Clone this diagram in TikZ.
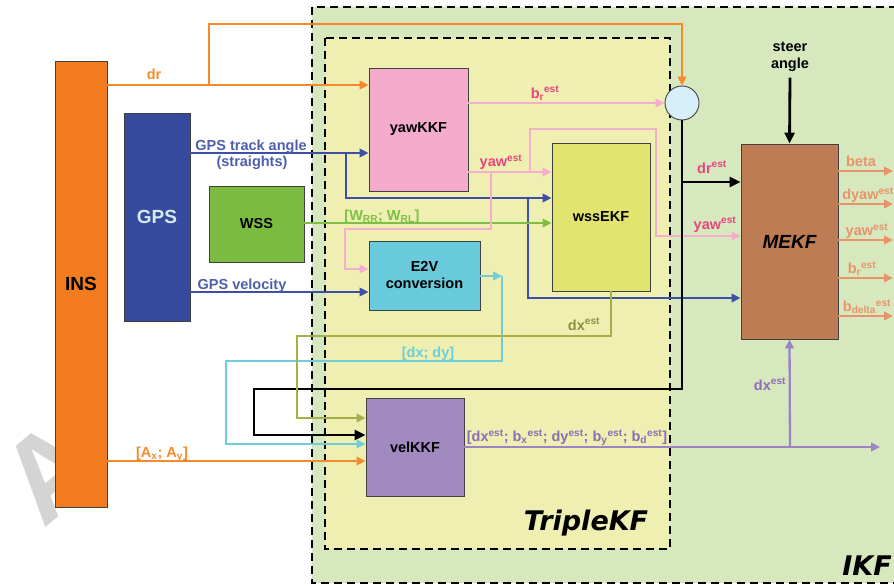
\documentclass[tikz,border=0pt]{standalone}
\usepackage{fontspec}
\setmainfont{Liberation Sans}
\newfontfamily\titlefont{DejaVu Sans}
\usetikzlibrary{arrows.meta}
\definecolor{ikfbg}{HTML}{D7E8BF}
\definecolor{tkfbg}{HTML}{EEEFB1}
\definecolor{insor}{HTML}{F47C20}
\definecolor{orline}{HTML}{F58A2C}
\definecolor{gpsblue}{HTML}{374B9E}
\definecolor{gpstxt}{HTML}{D5E9F7}
\definecolor{blline}{HTML}{3D4FA6}
\definecolor{bltxt}{HTML}{4E5EAE}
\definecolor{wssgreen}{HTML}{7BBB41}
\definecolor{grline}{HTML}{7DC045}
\definecolor{yawpink}{HTML}{F5ABCC}
\definecolor{pkline}{HTML}{F6AECF}
\definecolor{pktxt}{HTML}{E6467E}
\definecolor{e2vcyan}{HTML}{69CADC}
\definecolor{cyline}{HTML}{6DCED9}
\definecolor{ekfyel}{HTML}{E1E56D}
\definecolor{olline}{HTML}{A8AF48}
\definecolor{oltxt}{HTML}{8A933E}
\definecolor{velpur}{HTML}{A08ABF}
\definecolor{puline}{HTML}{9B84C4}
\definecolor{putxt}{HTML}{8C6DB8}
\definecolor{mekfbr}{HTML}{BE7C54}
\definecolor{outsal}{HTML}{E8946A}
\definecolor{sumblue}{HTML}{D7EEFB}

\begin{document}
\begin{tikzpicture}[x=1pt,y=-1pt,
  box/.style={draw=black!75,line width=0.9pt,inner sep=0pt,align=center,
    font=\fontsize{14.5}{17}\selectfont\bfseries},
  bigbox/.style={box,font=\fontsize{19}{20}\selectfont\bfseries},
  lbl/.style={inner sep=0pt,anchor=base,font=\fontsize{14.5}{17}\selectfont\bfseries},
  flow/.style={line width=2.3pt,-{Triangle[length=9pt,width=8.5pt]}},
  ctrl/.style={line width=2.8pt,-{Triangle[length=11pt,width=10pt]}},
  frame/.style={line width=2.6pt,dash pattern=on 8pt off 5pt},
  title/.style={inner sep=0pt,font=\titlefont\fontsize{27}{30}\selectfont\bfseries\itshape}]
  \useasboundingbox (0,0) rectangle (894,586);

  % the two filter frames
  \draw[frame,fill=ikfbg] (312,7) rectangle (906,583);
  \draw[frame,fill=tkfbg] (325,38) rectangle (670,549);
  \node[title] (ikflabel) at (867,566) {IKF};
  \node[title] (tkflabel) at (586,523) {TripleKF};

  \node[text=black!17,rotate=40,inner sep=0pt,font=\fontsize{118}{118}\selectfont\bfseries] (wmark) at (50,471) {A};

  % blocks
  \node[bigbox,fill=insor,minimum width=52pt,minimum height=446pt] (ins) at (81,284) {INS};
  \node[bigbox,fill=gpsblue,text=gpstxt,minimum width=66pt,minimum height=208pt] (gps) at (157,217) {GPS};
  \node[box,fill=wssgreen,minimum width=95pt,minimum height=76pt] (wss) at (256.5,224) {WSS};
  \node[box,fill=yawpink,minimum width=99pt,minimum height=123pt] (yawkkf) at (418.5,129.5) {yawKKF};
  \node[box,fill=e2vcyan,minimum width=111pt,minimum height=69pt] (e2v) at (424.5,275.5) {E2V\\conversion};
  \node[box,fill=ekfyel,minimum width=98pt,minimum height=148pt] (wssekf) at (601,217) {wssEKF};
  \node[box,fill=velpur,minimum width=98pt,minimum height=98pt] (velkkf) at (415,447) {velKKF};
  \node[bigbox,fill=mekfbr,minimum width=97pt,minimum height=195pt,font=\fontsize{19}{20}\selectfont\bfseries\itshape] (mekf) at (789.5,241.5) {MEKF};
  \node[circle,draw=black!75,line width=0.9pt,fill=sumblue,minimum size=34pt,inner sep=0pt] (sum) at (682,103) {};
  \node[inner sep=0pt,align=center,font=\fontsize{14.5}{16.5}\selectfont\bfseries] (steer) at (790,57) {steer\\angle};

  \coordinate (drsplit) at (209,85);
  \coordinate (trk) at (346,153);

  % INS
  \draw[flow,orline] (ins.east |- drsplit) -- (yawkkf.west |- drsplit);
  \draw[flow,orline] (drsplit) -- (209,24) -| (sum.north);
  \draw[flow,orline] (ins.east |- 0,461) -- (velkkf.west |- 0,461);
  \node[lbl,text=orline] (drlbl) at (154,80) {dr};
  \node[lbl,text=orline] (acclbl) at (162,457) {[A\textsubscript{x}; A\textsubscript{y}]};

  % GPS
  \draw[flow,blline] (gps.east |- trk) -- (yawkkf.west |- trk);
  \draw[flow,blline] (trk) |- (wssekf.west |- 0,198);
  \draw[flow,blline] (528,198) |- (mekf.west |- 0,298);
  \draw[flow,blline] (gps.east |- 0,292) -- (e2v.west |- 0,292);
  \node[lbl,text=bltxt] (trklbl) at (251,150.5) {GPS track angle};
  \node[lbl,text=bltxt] (strlbl) at (252,166.5) {(straights)};
  \node[lbl,text=bltxt] (vellbl) at (242,289) {GPS velocity};

  % WSS
  \draw[flow,grline] (wss.east |- 0,223) -- (wssekf.west |- 0,223);
  \node[lbl,text=grline] (wsslbl) at (382,220) {[W\textsubscript{RR}; W\textsubscript{RL}]};

  % yawKKF
  \draw[flow,pkline] (yawkkf.east |- sum.west) -- (sum.west);
  \draw[flow,pkline] (yawkkf.east |- 0,172) -- (wssekf.west |- 0,172);
  \draw[flow,pkline] (530,172) -- (530,129) -| (656,236) -- (mekf.west |- 0,236);
  \draw[flow,pkline] (491,172) -- (491,229) -| (345,269) -- (e2v.west |- 0,269);
  \node[lbl,text=pktxt] (brlbl) at (545,98) {b\textsubscript{r}\textsuperscript{est}};
  \node[lbl,text=pktxt] (yawlbl) at (501,166.5) {yaw\textsuperscript{est}};
  \node[lbl,text=pktxt] (yawlblb) at (715,229) {yaw\textsuperscript{est}};

  % sum and steer
  \draw[ctrl] (sum.south) -- (682,389) -| (254,435) -- (velkkf.west |- 0,435);
  \draw[ctrl] (682,182) -- (mekf.west |- 0,182);
  \draw[ctrl] ([yshift=-6pt]steer.south) -- (mekf.north);
  \node[lbl,text=pktxt] (drestlbl) at (712,173) {dr\textsuperscript{est}};

  % E2V and wssEKF
  \draw[flow,cyline] (e2v.east |- 0,276) -- (502,276);
  \draw[flow,cyline] (502,276) -- (502,361) -| (226,444) -- (velkkf.west |- 0,444);
  \node[lbl,text=cyline] (dxdylbl) at (428,357) {[dx; dy]};
  \draw[flow,olline] (wssekf.south -| 611,0) -- (611,336) -| (297,418) -- (velkkf.west |- 0,418);
  \node[lbl,text=oltxt] (dxlbl) at (584,330) {dx\textsuperscript{est}};

  % velKKF
  \draw[flow,puline] (velkkf.east |- 0,447) -- (880,447);
  \draw[flow,puline] (790,447) -- (mekf.south);
  \node[lbl,text=putxt] (statelbl) at (567,441.5) {[dx\textsuperscript{est}; b\textsubscript{x}\textsuperscript{est}; dy\textsuperscript{est}; b\textsubscript{y}\textsuperscript{est}; b\textsubscript{d}\textsuperscript{est}]};
  \node[lbl,text=putxt] (dxlblb) at (770,390) {dx\textsuperscript{est}};

  % MEKF outputs
  \foreach \yy/\xx/\txt in {171/861/beta,204/868/{dyaw\textsuperscript{est}},240/867/{yaw\textsuperscript{est}},278/862/{b\textsubscript{r}\textsuperscript{est}},316/867/{b\textsubscript{delta}\textsuperscript{est}}}{
    \draw[flow,outsal] (mekf.east |- 0,\yy) -- (893,\yy);
    \node[lbl,text=outsal] (out\yy) at (\xx,\yy-4.5) {\txt};
  }
\end{tikzpicture}
\end{document}
